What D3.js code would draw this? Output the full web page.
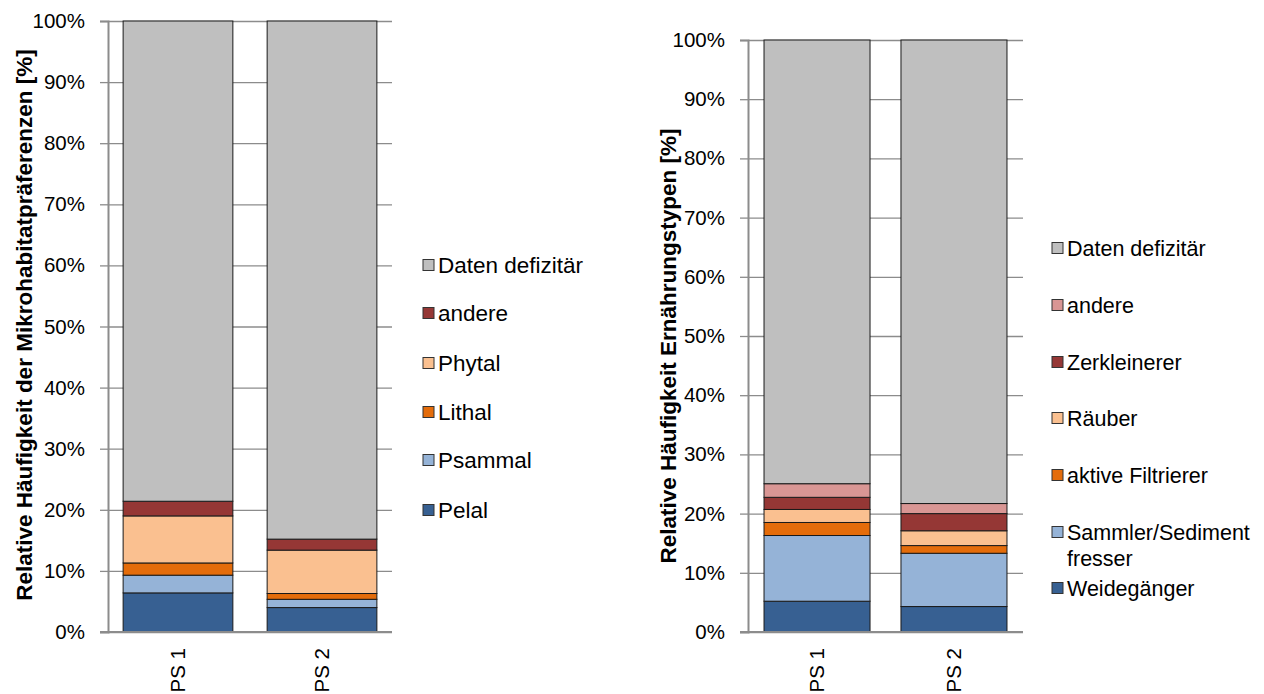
<!DOCTYPE html>
<html>
<head>
<meta charset="utf-8">
<script src="https://cdn.jsdelivr.net/npm/d3@7"></script>
<style>
  body { margin: 0; background: #fff; }
  text { font-family: "Liberation Sans", Arial, sans-serif; fill: #000; }
</style>
</head>
<body>
<div id="chart"></div>
<script>
// categories
const stations = ['PS 1', 'PS 2']
const yTicks = [0, 10, 20, 30, 40, 50, 60, 70, 80, 90, 100]

// left chart: Mikrohabitatpraeferenzen (% per station)
const habKeys = ['Pelal', 'Psammal', 'Lithal', 'Phytal', 'andere', 'Daten defizitär']
const pelal = [6.4, 4.0]
const psammal = [2.9, 1.35]
const lithal = [2.0, 0.95]
const phytal = [7.7, 7.1]
const habAndere = [2.4, 1.8]
const habDefizit = [78.6, 84.8]

// right chart: Ernaehrungstypen (% per station)
const foodKeys = ['Weidegänger', 'Sammler/Sediment fresser', 'aktive Filtrierer', 'Räuber', 'Zerkleinerer', 'andere', 'Daten defizitär']
const weide = [5.2, 4.3]
const sammler = [11.1, 9.0]
const filtrierer = [2.2, 1.3]
const raeuber = [2.2, 2.5]
const zerkleinerer = [2.05, 2.9]
const foodAndere = [2.3, 1.7]
const foodDefizit = [74.95, 78.3]

const habColors = ['#376092', '#95b3d7', '#e46c0a', '#fac090', '#953735', '#bfbfbf']
const foodColors = ['#376092', '#95b3d7', '#e46c0a', '#fac090', '#953735', '#d99694', '#bfbfbf']

const svg = d3.select('#chart').append('svg')
    .attr('width', 1264).attr('height', 694)

function drawChart(opt) {
    let rows = stations.map((s, i) => {
        let r = {station: s}
        opt.keys.forEach((k, j) => r[k] = opt.values[j][i])
        return r
    })
    let series = d3.stack().keys(opt.keys)(rows)

    let scX = d3.scaleBand().domain(stations).range([opt.left, opt.right])
        .paddingInner(opt.padIn).paddingOuter(opt.padOut)
    let scY = d3.scaleLinear().domain([0, 100]).range([opt.bottom, opt.top])

    let g = svg.append('g')

    // gridlines
    g.append('g')
        .attr('transform', `translate(${opt.left},0)`)
        .call(d3.axisLeft(scY).tickValues(yTicks).tickSize(-(opt.right - opt.left)).tickFormat(''))
        .call(a => a.select('.domain').remove())
        .selectAll('line').attr('stroke', '#8c8c8c').attr('stroke-width', 1.3)

    // bars
    series.forEach((s, idx) => {
        g.append('g').selectAll('rect')
            .data(s)
            .enter()
            .append('rect')
            .attr('x', d => scX(d.data.station))
            .attr('width', scX.bandwidth())
            .attr('y', d => scY(d[1]))
            .attr('height', d => scY(d[0]) - scY(d[1]))
            .attr('fill', opt.colors[idx])
            .attr('stroke', '#1a1a1a')
            .attr('stroke-width', 1)
    })

    // y axis
    let yAxis = g.append('g')
        .attr('transform', `translate(${opt.left},0)`)
        .call(d3.axisLeft(scY).tickValues(yTicks).tickSize(8).tickPadding(15).tickFormat(d => d + '%'))
    yAxis.select('.domain').attr('stroke', '#8c8c8c').attr('stroke-width', 2)
    yAxis.selectAll('line').attr('stroke', '#8c8c8c').attr('stroke-width', 1.3)
    yAxis.selectAll('text').style('font-size', '20.5px').attr('font-family', null)

    // x axis
    let xAxis = g.append('g')
        .attr('transform', `translate(0,${opt.bottom})`)
        .call(d3.axisBottom(scX).tickSize(0).tickPadding(0))
    xAxis.select('.domain').attr('d', `M${opt.left - 8},0H${opt.right}`)
        .attr('stroke', '#8c8c8c').attr('stroke-width', 2)
    xAxis.selectAll('text')
        .style('font-size', '20.5px').attr('font-family', null)
        .attr('text-anchor', 'end')
        .attr('dy', '0.35em')
        .attr('transform', 'translate(0,16) rotate(-90)')
        .attr('y', 0).attr('x', 0)

    // axis title
    g.append('text')
        .attr('transform', `translate(${opt.titleX},${opt.titleY}) rotate(-90)`)
        .attr('text-anchor', 'middle')
        .style('font-size', '22.5px').style('font-weight', 'bold')
        .text(opt.title)

    // legend
    let leg = g.append('g')
    opt.legend.forEach(item => {
        let k = opt.keys.indexOf(item.key)
        leg.append('rect')
            .attr('x', opt.legendX).attr('y', item.y - 5.5)
            .attr('width', 11).attr('height', 11)
            .attr('fill', opt.colors[k]).attr('stroke', '#333').attr('stroke-width', 1)
        item.lines.forEach((ln, li) => {
            leg.append('text')
                .attr('x', opt.legendX + 15).attr('y', item.y + li * 26)
                .attr('dy', '0.35em')
                .style('font-size', opt.legendFont)
                .text(ln)
        })
    })
}

drawChart({
    keys: habKeys,
    values: [pelal, psammal, lithal, phytal, habAndere, habDefizit],
    colors: habColors,
    left: 108, right: 392, top: 21, bottom: 632,
    padIn: 0.238, padOut: 0.105,
    title: 'Relative Häufigkeit der Mikrohabitatpräferenzen [%]',
    titleX: 32, titleY: 325,
    legendX: 423, legendFont: '22.5px',
    legend: [
        {key: 'Daten defizitär', y: 265, lines: ['Daten defizitär']},
        {key: 'andere', y: 313, lines: ['andere']},
        {key: 'Phytal', y: 363, lines: ['Phytal']},
        {key: 'Lithal', y: 412, lines: ['Lithal']},
        {key: 'Psammal', y: 460, lines: ['Psammal']},
        {key: 'Pelal', y: 510, lines: ['Pelal']}
    ]
})

drawChart({
    keys: foodKeys,
    values: [weide, sammler, filtrierer, raeuber, zerkleinerer, foodAndere, foodDefizit],
    colors: foodColors,
    left: 748, right: 1023, top: 40, bottom: 632,
    padIn: 0.226, padOut: 0.117,
    title: 'Relative Häufigkeit Ernährungstypen [%]',
    titleX: 676, titleY: 346,
    legendX: 1052, legendFont: '21.5px',
    legend: [
        {key: 'Daten defizitär', y: 248, lines: ['Daten defizitär']},
        {key: 'andere', y: 305, lines: ['andere']},
        {key: 'Zerkleinerer', y: 362, lines: ['Zerkleinerer']},
        {key: 'Räuber', y: 418, lines: ['Räuber']},
        {key: 'aktive Filtrierer', y: 475, lines: ['aktive Filtrierer']},
        {key: 'Sammler/Sediment fresser', y: 532, lines: ['Sammler/Sediment', 'fresser']},
        {key: 'Weidegänger', y: 588, lines: ['Weidegänger']}
    ]
})
</script>
</body>
</html>
